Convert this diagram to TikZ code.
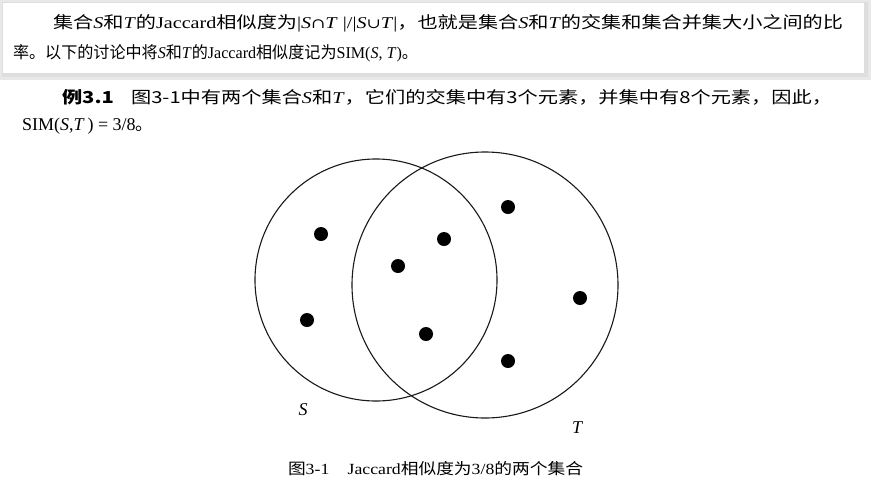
\documentclass[tikz,border=0pt]{standalone}
\usepackage{fontspec}
\setmainfont{Liberation Serif}
\newfontfamily\cjk{Noto Sans CJK SC}
\newfontfamily\symf{DejaVu Serif}
\usepackage{graphicx}
\tikzset{
  txt/.style={anchor=base west, inner sep=0pt, outer sep=0pt},
  setc/.style={draw=black!90, line width=1.1pt},
  elem/.style={circle, fill=black, inner sep=0pt, minimum size=14pt},
  lbl/.style={inner sep=0pt, font=\fontsize{18}{18}\selectfont\itshape}
}
\newcommand{\zh}[1]{{\cjk #1}}
\begin{document}
\begin{tikzpicture}[x=1pt,y=-1pt]
\useasboundingbox (0,0) rectangle (877,488);
\fill[white] (0,0) rectangle (877,488);
% highlighted box with shadow
\fill[black!9] (0,0) rectangle (871,80);
\fill[black!13] (2,2) rectangle (868,77);
\fill[white] (3,3) rectangle (864,73);
\node[txt] (l1) at (53,28) {\resizebox{790pt}{\height}{\fontsize{16.5}{18}\selectfont\zh{集合}\textit{S}\zh{和}\textit{T}\zh{的}Jaccard\zh{相似度为}|\textit{S}{\symf\fontsize{14}{16}\selectfont ∩}\textit{T} |/|\textit{S}{\symf\fontsize{14}{16}\selectfont ∪}\textit{T}|\zh{，也就是集合}\textit{S}\zh{和}\textit{T}\zh{的交集和集合并集大小之间的比}}};
\node[txt] (l2) at (13,58) {\resizebox{405pt}{\height}{\fontsize{16.5}{18}\selectfont\zh{率。以下的讨论中将}\textit{S}\zh{和}\textit{T}\zh{的}Jaccard\zh{相似度记为}SIM(\textit{S}, \textit{T})\zh{。}}};
\node[txt] (l3) at (62,103) {\resizebox{770pt}{\height}{\fontsize{16.5}{18}\selectfont{\cjk\bfseries 例3.1}\hspace{14pt}\zh{图3-1中有两个集合}\textit{S}\zh{和}\textit{T}\zh{，它们的交集中有3个元素，并集中有8个元素，因此，}}};
\node[txt] (l4) at (22,130) {\fontsize{18}{20}\selectfont SIM(\textit{S},\textit{T}\,) = 3/8\zh{。}};
% Venn diagram
\node[setc, circle, minimum size=242pt, inner sep=0pt] (S) at (376,280) {};
\node[setc, circle, minimum size=266pt, inner sep=0pt] (T) at (485,285) {};
\node[elem] (s1) at (321,234) {};
\node[elem] (s2) at (307,320) {};
\node[elem] (b1) at (444,239) {};
\node[elem] (b2) at (398,266) {};
\node[elem] (b3) at (426,334) {};
\node[elem] (t1) at (508,207) {};
\node[elem] (t2) at (580,298) {};
\node[elem] (t3) at (508,361) {};
\node[lbl] (Sl) at (303,410) {S};
\node[lbl] (Tl) at (577,428) {T};
% caption
\node[txt] (cap) at (288,474) {\resizebox{295pt}{\height}{\fontsize{15.5}{17}\selectfont\zh{图}3-1\hspace{16pt}Jaccard\zh{相似度为}3/8\zh{的两个集合}}};
\end{tikzpicture}
\end{document}
